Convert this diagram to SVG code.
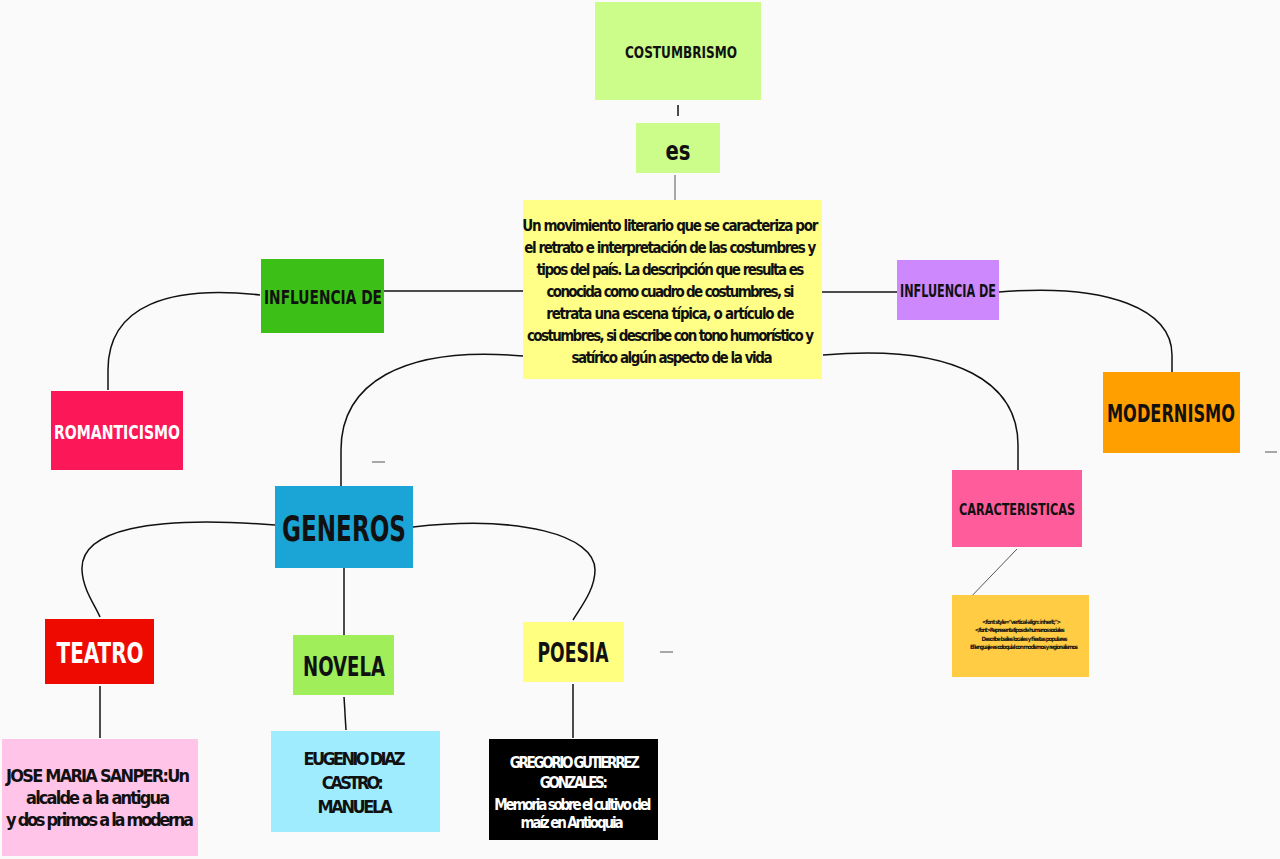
<svg xmlns="http://www.w3.org/2000/svg" width="1280" height="859" viewBox="0 0 1280 859">
<style>
.t{font-family:'Liberation Sans Narrow','DejaVu Sans Condensed','Liberation Sans',Arial,sans-serif;font-weight:bold;text-anchor:middle;fill:#111}
.w{fill:#fff}
.c{fill:none;stroke:#111;stroke-width:1.5}
.g{fill:none;stroke:#555;stroke-width:1}
</style>
<rect width="1280" height="859" fill="#fafafa"/>
<g id="connectors">
<path class="c" d="M678,105 V116"/>
<path class="g" d="M675,175 V200"/>
<path class="c" d="M384,291 H523"/>
<path class="c" d="M260,295 C170,285 108,305 108,370 V390"/>
<path class="c" d="M820,292 H897"/>
<path class="c" d="M999,292 C1110,283 1172,310 1172,355 V372"/>
<path class="c" d="M823,355 C960,343 1018,385 1018,445 V470"/>
<path class="c" d="M523,356 C400,345 341,385 341,450 V486"/>
<path class="c" d="M275,525 C150,515 80,530 82,570 C83,590 95,605 100,617"/>
<path class="c" d="M413,527 C520,515 595,535 595,570 C595,590 580,608 573,620"/>
<path class="c" d="M344,568 V635"/>
<path class="c" d="M100,686 V738"/>
<path class="c" d="M344,697 L346,730"/>
<path class="c" d="M573,684 V738"/>
<path class="g" d="M1017,549 L966,602"/>
<path class="g" d="M372,462 H385"/>
<path class="g" d="M660,652 H673"/>
<path class="g" d="M1265,452 H1277"/>
</g>
<g id="costumbrismo">
<rect x="595" y="2" width="166" height="98" fill="#ccfd8a"/>
<text class="t" x="681" y="58" font-size="15" textLength="112" lengthAdjust="spacingAndGlyphs">COSTUMBRISMO</text>
</g>
<g id="es">
<rect x="636" y="123" width="84" height="50" fill="#ccfd8a"/>
<text class="t" x="678" y="160" font-size="26" textLength="25" lengthAdjust="spacingAndGlyphs">es</text>
</g>
<g id="definicion">
<rect x="523" y="200" width="299" height="179" fill="#ffff88"/>
<text class="t" font-size="15" lengthAdjust="spacingAndGlyphs">
<tspan x="672" y="231" textLength="296">Un movimiento literario que se caracteriza por</tspan>
<tspan x="672" y="253" textLength="292">el retrato e interpretación de las costumbres y</tspan>
<tspan x="672" y="275" textLength="268">tipos del país. La descripción que resulta es</tspan>
<tspan x="672" y="297" textLength="248">conocida como cuadro de costumbres, si</tspan>
<tspan x="672" y="319" textLength="248">retrata una escena típica, o artículo de</tspan>
<tspan x="672" y="341" textLength="287">costumbres, si describe con tono humorístico y</tspan>
<tspan x="672" y="363" textLength="201">satírico algún aspecto de la vida</tspan>
</text>
</g>
<g id="influencia1">
<rect x="261" y="259" width="123" height="74" fill="#3cc017"/>
<text class="t" x="323" y="304" font-size="20" textLength="118" lengthAdjust="spacingAndGlyphs">INFLUENCIA DE</text>
</g>
<g id="romanticismo">
<rect x="51" y="391" width="132" height="79" fill="#fc1858"/>
<text class="t w" x="117" y="439" font-size="20" textLength="126" lengthAdjust="spacingAndGlyphs">ROMANTICISMO</text>
</g>
<g id="influencia2">
<rect x="897" y="260" width="102" height="60" fill="#cc88fc"/>
<text class="t" x="948" y="297" font-size="17" textLength="96" lengthAdjust="spacingAndGlyphs">INFLUENCIA DE</text>
</g>
<g id="modernismo">
<rect x="1103" y="372" width="137" height="81" fill="#ffa000"/>
<text class="t" x="1171" y="422" font-size="24" textLength="128" lengthAdjust="spacingAndGlyphs">MODERNISMO</text>
</g>
<g id="caracteristicas">
<rect x="952" y="470" width="130" height="77" fill="#ff5c9c"/>
<text class="t" x="1017" y="515" font-size="16" textLength="116" lengthAdjust="spacingAndGlyphs">CARACTERISTICAS</text>
</g>
<g id="detalle">
<rect x="952" y="595" width="137" height="82" fill="#ffcc44"/>
<text class="t" font-size="6" lengthAdjust="spacingAndGlyphs">
<tspan x="1022" y="624" textLength="79">&lt;font style="vertical-align: inherit;"&gt;</tspan>
<tspan x="1020" y="632" textLength="90">&lt;/font&gt;Representa tipos de humanos sociales</tspan>
<tspan x="1025" y="641" textLength="86">Describe bailes locales y fiestas populares</tspan>
<tspan x="1024" y="649" textLength="108">El lenguaje es coloquial con modismos y regionalismos</tspan>
</text>
</g>
<g id="generos">
<rect x="275" y="486" width="138" height="82" fill="#1aa5d6"/>
<text class="t" x="344" y="541" font-size="36" textLength="124" lengthAdjust="spacingAndGlyphs">GENEROS</text>
</g>
<g id="teatro">
<rect x="45" y="619" width="109" height="65" fill="#ee0a00"/>
<text class="t w" x="100" y="663" font-size="28" textLength="87" lengthAdjust="spacingAndGlyphs">TEATRO</text>
</g>
<g id="novela">
<rect x="293" y="635" width="101" height="60" fill="#a0ee5a"/>
<text class="t" x="344" y="676" font-size="26" textLength="82" lengthAdjust="spacingAndGlyphs">NOVELA</text>
</g>
<g id="poesia">
<rect x="523" y="622" width="101" height="60" fill="#ffff80"/>
<text class="t" x="573" y="662" font-size="26" textLength="71" lengthAdjust="spacingAndGlyphs">POESIA</text>
</g>
<g id="sanper">
<rect x="2" y="739" width="196" height="117" fill="#ffc4e8"/>
<text class="t" font-size="18" lengthAdjust="spacingAndGlyphs">
<tspan x="100" y="782" textLength="184">JOSE MARIA SANPER:Un</tspan>
<tspan x="100" y="804" textLength="144">alcalde a la antigua</tspan>
<tspan x="100" y="826" textLength="188">y dos primos a la moderna</tspan>
</text>
</g>
<g id="eugenio">
<rect x="271" y="731" width="169" height="101" fill="#a0ecff"/>
<text class="t" font-size="18" lengthAdjust="spacingAndGlyphs">
<tspan x="356" y="765" textLength="102">EUGENIO DIAZ</tspan>
<tspan x="354" y="789" textLength="62">CASTRO:</tspan>
<tspan x="355" y="813" textLength="75">MANUELA</tspan>
</text>
</g>
<g id="gregorio">
<rect x="489" y="739" width="169" height="101" fill="#000"/>
<text class="t w" font-size="15" lengthAdjust="spacingAndGlyphs">
<tspan x="576" y="768" textLength="130">GREGORIO GUTIERREZ</tspan>
<tspan x="575" y="788" textLength="68">GONZALES:</tspan>
<tspan x="574" y="810" textLength="157">Memoria sobre el cultivo del</tspan>
<tspan x="572" y="828" textLength="103">maíz en Antioquia</tspan>
</text>
</g>
</svg>
